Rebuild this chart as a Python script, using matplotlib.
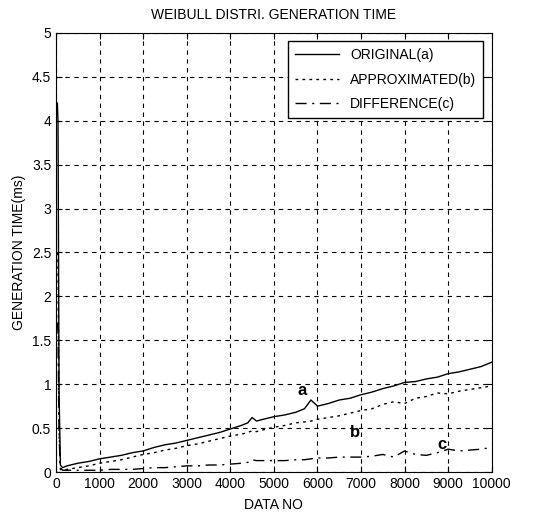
import matplotlib
matplotlib.use('Agg')
import matplotlib.pyplot as plt
from matplotlib.ticker import FuncFormatter

plt.rcParams['font.family'] = ['Liberation Sans', 'DejaVu Sans']

# data no
data_no = [30, 45, 70, 100, 150, 250, 500, 750, 1000, 1250, 1500, 1750, 2000, 2250, 2500,
           2750, 3000, 3250, 3500, 3750, 4000, 4250, 4400, 4500, 4600, 4750, 5000, 5250,
           5500, 5700, 5850, 6000, 6250, 6500, 6750, 7000, 7250, 7500, 7750, 8000, 8250,
           8500, 8750, 9000, 9250, 9500, 9750, 10000]

original = [4.2, 4.0, 0.9, 0.08, 0.05, 0.07, 0.10, 0.12, 0.15, 0.17, 0.19, 0.22, 0.24, 0.28,
            0.31, 0.33, 0.36, 0.39, 0.42, 0.45, 0.49, 0.53, 0.56, 0.62, 0.58, 0.60, 0.63,
            0.65, 0.68, 0.72, 0.82, 0.75, 0.78, 0.82, 0.84, 0.88, 0.91, 0.95, 0.98, 1.02,
            1.03, 1.06, 1.08, 1.12, 1.14, 1.17, 1.20, 1.25]

approximated = [2.5, 2.4, 0.5, 0.03, 0.02, 0.03, 0.05, 0.07, 0.10, 0.12, 0.14, 0.17, 0.20,
                0.22, 0.25, 0.27, 0.30, 0.32, 0.35, 0.38, 0.41, 0.43, 0.45, 0.47, 0.46, 0.48,
                0.51, 0.53, 0.56, 0.57, 0.58, 0.60, 0.62, 0.64, 0.67, 0.70, 0.72, 0.77, 0.80,
                0.78, 0.84, 0.86, 0.90, 0.89, 0.92, 0.94, 0.96, 0.98]

difference = [1.7, 1.6, 0.4, 0.05, 0.02, 0.02, 0.02, 0.02, 0.02, 0.03, 0.03, 0.03, 0.04,
              0.05, 0.05, 0.06, 0.07, 0.07, 0.08, 0.08, 0.09, 0.10, 0.11, 0.14, 0.13, 0.13,
              0.13, 0.13, 0.14, 0.14, 0.15, 0.16, 0.16, 0.17, 0.17, 0.17, 0.18, 0.20, 0.17,
              0.24, 0.20, 0.19, 0.22, 0.26, 0.24, 0.25, 0.26, 0.28]

fig = plt.figure(figsize=(5.44, 5.21), dpi=100)
ax = fig.add_axes([0.103, 0.094, 0.801, 0.843])

ax.plot(data_no, original, color='black', linewidth=1.0, label='ORIGINAL(a)')
ax.plot(data_no, approximated, color='black', linewidth=1.0, linestyle=(0, (2, 3)),
        label='APPROXIMATED(b)')
ax.plot(data_no, difference, color='black', linewidth=1.0, linestyle=(0, (8, 4, 1.5, 4)),
        label='DIFFERENCE(c)')

ax.text(5650, 0.93, 'a', fontsize=12, fontweight='bold', ha='center', va='center')
ax.text(6850, 0.45, 'b', fontsize=12, fontweight='bold', ha='center', va='center')
ax.text(8850, 0.31, 'c', fontsize=12, fontweight='bold', ha='center', va='center')

ax.set_xlim(0, 10000)
ax.set_ylim(0, 5)
ax.set_xticks(range(0, 10001, 1000))
ax.set_yticks([i * 0.5 for i in range(11)])
ax.yaxis.set_major_formatter(FuncFormatter(lambda v, p: '%g' % v))
ax.tick_params(direction='in', top=True, right=True, labelsize=10, length=4)
ax.grid(True, color='black', linestyle=(0, (4, 4)), linewidth=0.8)

ax.set_title('WEIBULL DISTRI. GENERATION TIME', fontsize=10, pad=10)
ax.set_xlabel('DATA NO', fontsize=10, labelpad=5)
ax.set_ylabel('GENERATION TIME(ms)', fontsize=10, labelpad=4)

leg = ax.legend(loc='upper right', fontsize=10, fancybox=False, framealpha=1,
                edgecolor='black', borderaxespad=0.6, handlelength=3.2,
                labelspacing=0.75, borderpad=0.5)
leg.get_frame().set_linewidth(1.0)

fig.savefig('out.png', dpi=100)
